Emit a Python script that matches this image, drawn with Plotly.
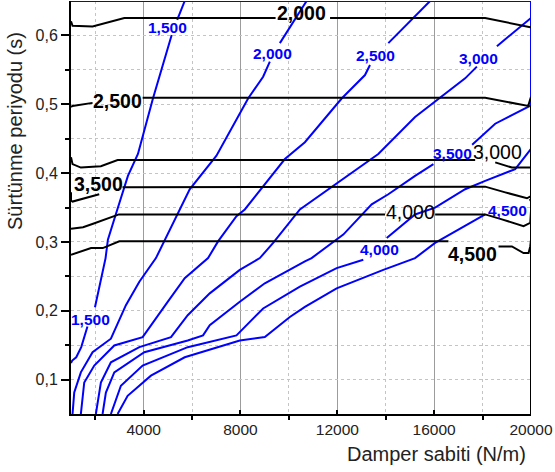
import plotly.graph_objects as go

# Axis ticks
x_tick_vals = [4000, 8000, 12000, 16000, 20000]
x_tick_text = ["4000", "8000", "12000", "16000", "20000"]
x_minor_vals = [2000, 6000, 10000, 14000, 18000]
y_tick_vals = [0.1, 0.2, 0.3, 0.4, 0.5, 0.6]
y_tick_text = ["0,1", "0,2", "0,3", "0,4", "0,5", "0,6"]
y_minor_vals = [0.15, 0.25, 0.35, 0.45, 0.55]

# Blue contour family (None marks a break where the level label sits)
b1500_x = [5697, 5386, None, 5159, 4385, 3765, 3351, 2871, 2524, 2428, 2180, 1990, None, 1680, 1423, 1216, 1051, 1000]
b1500_y = [0.650, 0.6225, None, 0.6005, 0.5083, 0.4278, 0.396, 0.3424, 0.3033, 0.2765, 0.2349, 0.205, None, 0.177, 0.1471, 0.1324, 0.1276, 0.124]

b2000_x = [10731, 9627, None, 9213, 8936, 8315, 7008, 5903, 4857, 4509, 3823, 3268, 2648, 1891, 1407, 1134, 1063]
b2000_y = [0.650, 0.5888, None, 0.562, 0.540, 0.5083, 0.4253, 0.3765, 0.3033, 0.2765, 0.2422, 0.2081, 0.1594, 0.1397, 0.1105, 0.0812, 0.050]

b2500_x = [15832, 14107, None, 13350, 13143, 12179, 10661, 9834, 8179, 7835, 7074, 6661, 5697, 4993, 3959, 2788, 1961, 1547, 1407]
b2500_y = [0.650, 0.5888, None, 0.557, 0.5424, 0.5083, 0.4449, 0.4204, 0.3472, 0.3374, 0.3008, 0.2765, 0.2472, 0.213, 0.1617, 0.1496, 0.1203, 0.0958, 0.050]

b3000_x = [20000, 18592, None, 17764, 17280, 15212, 13693, 10454, 9350, 8799, 7972, 6731, 5821, 5130, 3823, 2648, 2234, 2027]
b3000_y = [0.6254, 0.5844, None, 0.5547, 0.5376, 0.4815, 0.4278, 0.3472, 0.2985, 0.2765, 0.2594, 0.2253, 0.1935, 0.1617, 0.1471, 0.1251, 0.0958, 0.050]

b3500_x = [20000, 18521, 17570, None, 15969, 15212, 14107, 13420, 12246, 10938, 10661, 9006, 7972, 6731, 6454, 5821, 4029, 2788, 2441, 2304]
b3500_y = [0.4985, 0.4717, 0.441, None, 0.4131, 0.396, 0.3692, 0.3546, 0.3106, 0.2765, 0.2716, 0.2399, 0.213, 0.1789, 0.1642, 0.1569, 0.1397, 0.1105, 0.0812, 0.050]

b4000_x = [20000, 19349, 18108, 17280, 16039, 15212, 14041, None, 13073, 11972, 10454, 8936, 7835, 5821, 3959, 3061, 2648]
b4000_y = [0.435, 0.4058, 0.3887, 0.3765, 0.3497, 0.3399, 0.3058, None, 0.274, 0.2619, 0.2349, 0.2033, 0.1642, 0.1471, 0.1203, 0.091, 0.050]

b4500_x = [20000, 19930, None, 18108, 16039, 15212, 13900, 11972, 11004, 10661, 10040, 9006, 7972, 5697, 4302, 3339, 2925]
b4500_y = [0.3619, 0.3605, None, 0.3399, 0.2985, 0.2765, 0.2594, 0.2326, 0.213, 0.2057, 0.191, 0.1617, 0.1569, 0.1324, 0.1057, 0.0764, 0.050]

# Boundary segments of the blue family along the top and right edges
b_edge_x = [1000, 20000, 20000]
b_edge_y = [0.650, 0.650, 0.4985]

# Black contour family
k2000_x = [1000, 1063, 1891, 3202, 9450, None, 11700, 18108, 19970, 20000]
k2000_y = [0.6206, 0.614, 0.613, 0.6254, 0.6254, None, 0.6254, 0.6254, 0.6118, 0.6118]

k2500_x = [1000, 1063, 1891, None, 3959, 18108, 19887, 20000]
k2500_y = [0.4961, 0.4976, 0.502, None, 0.5093, 0.5093, 0.4976, 0.511]

k3000_x = [1000, 1063, 1406, 2234, 2925, 17694, None, 18522, 19212, 20000]
k3000_y = [0.423, 0.413, 0.408, 0.410, 0.419, 0.419, None, 0.4155, 0.408, 0.408]

k3500_x = [1000, 1000, 1063, 2166, None, 3128, 18108, 18936, 19833, 20000]
k3500_y = [0.372, 0.360, 0.3586, 0.3693, None, 0.3795, 0.3803, 0.372, 0.3634, 0.3667]

k4000_x = [1000, 1498, 1912, 2978, 13972, None, 16040, 18108, 18798, 19692, 19970, 20000]
k4000_y = [0.319, 0.3213, 0.3263, 0.340, 0.340, None, 0.340, 0.340, 0.3328, 0.3229, 0.3278, 0.345]

k4500_x = [1000, 1829, 2313, 2995, 16590, None, 18659, 19212, 19692, 19900, 19970, 20000]
k4500_y = [0.2813, 0.291, 0.291, 0.3008, 0.3008, None, 0.2935, 0.2935, 0.2838, 0.2838, 0.2935, 0.303]

k_edge_x = [20000, 20000]
k_edge_y = [0.4985, 0.050]

BLUE = "#0000ff"
BLACK = "#000000"

fig = go.Figure()

for xs, ys in [(b_edge_x, b_edge_y), (b1500_x, b1500_y), (b2000_x, b2000_y),
               (b2500_x, b2500_y), (b3000_x, b3000_y), (b3500_x, b3500_y),
               (b4000_x, b4000_y), (b4500_x, b4500_y)]:
    fig.add_trace(go.Scatter(x=xs, y=ys, mode="lines", connectgaps=False,
                             line=dict(color=BLUE, width=2), hoverinfo="skip",
                             showlegend=False))

for xs, ys in [(k_edge_x, k_edge_y), (k2000_x, k2000_y), (k2500_x, k2500_y),
               (k3000_x, k3000_y), (k3500_x, k3500_y), (k4000_x, k4000_y),
               (k4500_x, k4500_y)]:
    fig.add_trace(go.Scatter(x=xs, y=ys, mode="lines", connectgaps=False,
                             line=dict(color=BLACK, width=2), hoverinfo="skip",
                             showlegend=False))

FONT = "Liberation Sans, Arial, sans-serif"

# Level labels of the blue family
blue_labels = [
    ("1,500", 4973, 0.612), ("1,500", 1808, 0.1876), ("2,000", 9317, 0.5742),
    ("2,500", 13557, 0.5712), ("3,000", 17818, 0.5668), ("3,500", 16742, 0.4278),
    ("4,000", 13722, 0.2887), ("4,500", 19018, 0.3457),
]
for txt, x, y in blue_labels:
    fig.add_annotation(x=x, y=y, text="<b>" + txt + "</b>", showarrow=False,
                       font=dict(family=FONT, size=15.5, color=BLUE),
                       xanchor="center", yanchor="middle")

# Level labels of the black family
black_labels = [
    ("2,000", 10537, 0.6327, True), ("2,500", 2925, 0.5053, True),
    ("3,000", 18604, 0.4307, False), ("3,500", 2139, 0.3838, True),
    ("4,000", 15005, 0.3428, False), ("4,500", 17570, 0.2828, True),
]
for txt, x, y, bold in black_labels:
    fig.add_annotation(x=x, y=y, text=("<b>" + txt + "</b>") if bold else txt,
                       showarrow=False,
                       font=dict(family=FONT, size=19.5, color=BLACK),
                       xanchor="center", yanchor="middle")

# Axis titles
fig.add_annotation(xref="paper", yref="paper", x=0.9935, y=-0.097,
                   text="Damper sabiti (N/m)", showarrow=False,
                   xanchor="right", yanchor="middle",
                   font=dict(family=FONT, size=20, color="#222222"))
fig.add_annotation(xref="paper", yref="paper", x=-0.122, y=0.685,
                   text="Sürtünme periyodu (s)", showarrow=False, textangle=-90,
                   xanchor="center", yanchor="middle",
                   font=dict(family=FONT, size=20, color="#222222"))

fig.update_layout(
    width=555, height=472,
    margin=dict(l=71, r=24, t=1, b=58, autoexpand=False),
    plot_bgcolor="white", paper_bgcolor="white",
    showlegend=False,
    font=dict(family=FONT, size=16, color="#222222"),
    xaxis=dict(
        range=[1000, 20000], tickmode="array", tickvals=x_tick_vals, ticktext=x_tick_text,
        ticks="inside", ticklen=4, tickwidth=1.5, tickcolor=BLACK,
        showline=True, linecolor=BLACK, linewidth=2, zeroline=False,
        showgrid=True, gridcolor="#9c9c9c", gridwidth=1,
        minor=dict(tickmode="array", tickvals=x_minor_vals, ticks="outside", ticklen=4,
                   tickcolor=BLACK, showgrid=True, gridcolor="#c4c4c4", griddash="dot",
                   gridwidth=1),
        tickfont=dict(family=FONT, size=15.5, color="#222222"),
    ),
    yaxis=dict(
        range=[0.05, 0.65], tickmode="array", tickvals=y_tick_vals, ticktext=y_tick_text,
        ticks="outside", ticklen=8, tickwidth=1.5, tickcolor=BLACK,
        showline=True, linecolor=BLACK, linewidth=2, zeroline=False,
        showgrid=True, gridcolor="#c4c4c4", griddash="dot", gridwidth=1,
        minor=dict(tickmode="array", tickvals=y_minor_vals, ticks="outside", ticklen=4,
                   tickcolor=BLACK, showgrid=True, gridcolor="#c4c4c4", griddash="dot",
                   gridwidth=1),
        tickfont=dict(family=FONT, size=16, color="#222222"),
    ),
)

fig.write_html("out.html")
